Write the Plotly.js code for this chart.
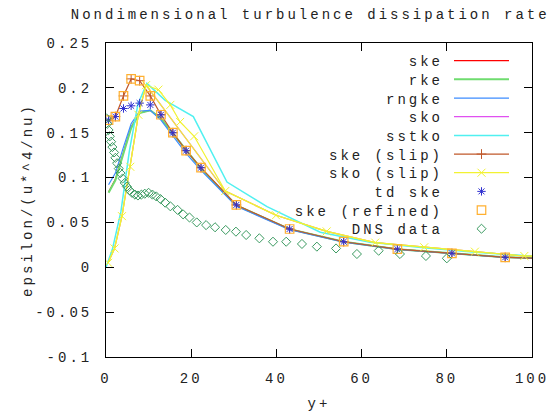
<!DOCTYPE html>
<html><head><meta charset="utf-8">
<script src="https://cdn.plot.ly/plotly-3.0.1.min.js"></script>
<style>
html,body{margin:0;padding:0;background:#fff;}
#chart text{letter-spacing:3px;}
</style></head>
<body><div id="chart" style="width:559px;height:417px;"></div>
<script>
// ---- data ----
const xGrid = [0.6, 2.2, 4.1, 5.9, 7.9, 10.4, 12.9, 15.7, 18.8, 22.3, 30.6, 43.1, 55.8, 68.4, 81.2, 93.7, 106.2];
const skeY     = [0.084, 0.098, 0.128, 0.156, 0.172, 0.175, 0.166, 0.149, 0.130, 0.110, 0.069, 0.0425, 0.0285, 0.0202, 0.0156, 0.0112, 0.0095];
const rkeY     = [0.083, 0.097, 0.127, 0.155, 0.172, 0.175, 0.166, 0.149, 0.130, 0.110, 0.069, 0.0425, 0.0285, 0.0202, 0.0156, 0.0112, 0.0095];
const rngkeY   = [0.092, 0.105, 0.134, 0.160, 0.174, 0.175, 0.164, 0.146, 0.127, 0.108, 0.068, 0.0420, 0.0280, 0.0198, 0.0153, 0.0110, 0.0093];
const skeSlipY = [0.164, 0.168, 0.191, 0.210, 0.208, 0.191, 0.170, 0.150, 0.130, 0.111, 0.0695, 0.0427, 0.0285, 0.0202, 0.0156, 0.0111, 0.0095];
const tdSkeY   = [0.164, 0.168, 0.177, 0.180, 0.183, 0.181, 0.170, 0.150, 0.130, 0.111, 0.0695, 0.0427, 0.0285, 0.0202, 0.0156, 0.0111, 0.0095];
const refinedY = [0.164, 0.168, 0.191, 0.210, 0.208, 0.191, 0.170, 0.150, 0.130, 0.111, 0.0695, 0.0427, 0.0285, 0.0202, 0.0156, 0.0111, 0.0095];

const sstkoX = [0, 1.5, 3.5, 5.5, 7.5, 9.6, 13.9, 20.5, 28.4, 37.8, 50.3, 62, 74, 86, 98, 110];
const sstkoY = [0.0, 0.020, 0.062, 0.130, 0.182, 0.205, 0.186, 0.168, 0.095, 0.0676, 0.039, 0.028, 0.022, 0.017, 0.013, 0.011];

const skoX = [0.5, 2.0, 3.75, 5.7, 7.6, 9.4, 28.0, 39.9, 51.8, 63.2, 74.7, 86.6, 98.2, 110];
const skoY = [0.005, 0.021, 0.057, 0.112, 0.170, 0.203, 0.085, 0.058, 0.040, 0.0275, 0.0223, 0.0174, 0.0126, 0.011];

const skoSlipX = [0.5, 2.0, 3.75, 5.7, 7.6, 9.4, 12.3, 15.1, 17.4, 20.7, 28.0, 39.9, 51.8, 63.2, 74.7, 86.6, 98.2, 110];
const skoSlipY = [0.005, 0.021, 0.057, 0.112, 0.170, 0.203, 0.198, 0.181, 0.162, 0.146, 0.085, 0.058, 0.040, 0.0275, 0.0223, 0.0174, 0.0126, 0.011];

const dnsX = [0.1, 0.3, 0.6, 0.9, 1.2, 1.5, 1.9, 2.2, 2.6, 3.0, 3.4, 3.9, 4.4, 4.9, 5.5, 6.1, 6.8, 7.5, 8.3, 9.1, 10.0, 10.9, 11.8, 12.8, 13.9, 15.1, 16.8, 18.1, 19.6, 21.3, 23.5, 25.6, 28.1, 30.5, 32.9, 36.0, 39.2, 42.3, 46.0, 49.5, 54.0, 58.9, 64.0, 69.0, 75.1, 80.0];
const dnsY = [0.166, 0.160, 0.153, 0.146, 0.140, 0.134, 0.128, 0.122, 0.116, 0.110, 0.105, 0.099, 0.094, 0.090, 0.086, 0.083, 0.081, 0.080, 0.081, 0.082, 0.083, 0.081, 0.079, 0.076, 0.072, 0.068, 0.064, 0.059, 0.0555, 0.050, 0.047, 0.0446, 0.0416, 0.0397, 0.036, 0.0323, 0.0285, 0.0285, 0.026, 0.023, 0.021, 0.0148, 0.0185, 0.0148, 0.0126, 0.010];

const xTickVals = [0, 20, 40, 60, 80, 100];
const xTickText = ['0', '20', '40', '60', '80', '100'];
const yTickVals = [-0.1, -0.05, 0, 0.05, 0.1, 0.15, 0.2, 0.25];
const yTickText = ['-0.1', '-0.05', '0', '0.05', '0.1', '0.15', '0.2', '0.25'];

// ---- styles ----
const FONT = 'Liberation Mono, DejaVu Sans Mono, monospace';
const TXT = '#222';
const C = {ske:'#ff0000', rke:'#6fdc6f', rngke:'#3c8cff', sko:'#e050f0', sstko:'#50f0f0',
           skeSlip:'#c0582a', skoSlip:'#f2f232', td:'#3030d0', refined:'#ffb030', dns:'#3a9a60'};

const traces = [
  {name:'ske', x:xGrid, y:skeY, mode:'lines', line:{color:C.ske, width:1.2}},
  {name:'rke', x:xGrid, y:rkeY, mode:'lines', line:{color:C.rke, width:2}},
  {name:'rngke', x:xGrid, y:rngkeY, mode:'lines', line:{color:C.rngke, width:1.2}},
  {name:'sko', x:skoX, y:skoY, mode:'lines', line:{color:C.sko, width:1.2}},
  {name:'sstko', x:sstkoX, y:sstkoY, mode:'lines', line:{color:C.sstko, width:1.5}},
  {name:'ske (slip)', x:xGrid, y:skeSlipY, mode:'lines+markers', line:{color:C.skeSlip, width:1.2},
   marker:{symbol:'cross-thin-open', size:7, color:C.skeSlip, line:{color:C.skeSlip, width:1}}},
  {name:'sko (slip)', x:skoSlipX, y:skoSlipY, mode:'lines+markers', line:{color:C.skoSlip, width:1.2},
   marker:{symbol:'x-thin-open', size:8, color:C.skoSlip, line:{color:C.skoSlip, width:1}}},
  {name:'sko (slip)', x:skoX, y:skoY, mode:'lines', showlegend:false, line:{color:C.skoSlip, width:1.2}},
  {name:'td ske', x:xGrid, y:tdSkeY, mode:'markers',
   marker:{symbol:'asterisk-open', size:7, color:C.td, line:{color:C.td, width:1}}},
  {name:'ske (refined)', x:xGrid, y:refinedY, mode:'markers',
   marker:{symbol:'square-open', size:8.5, color:C.refined, line:{color:C.refined, width:1.2}}},
  {name:'DNS data', x:dnsX, y:dnsY, mode:'markers',
   marker:{symbol:'diamond-open', size:7, color:C.dns, line:{color:C.dns, width:1}}}
];

const axisCommon = {
  showgrid:false, zeroline:false, showline:true, linecolor:'#000', linewidth:1,
  mirror:'ticks', ticks:'inside', ticklen:8, tickcolor:'#000', tickwidth:1,
  tickfont:{family:FONT, size:14, color:TXT}, tickmode:'array'
};

const layout = {
  width:559, height:417, paper_bgcolor:'#fff', plot_bgcolor:'#fff',
  margin:{l:106, r:27, t:43, b:60},
  showlegend:true,
  title:{text:'Nondimensional turbulence dissipation rate', font:{family:FONT, size:14, color:TXT},
         x:0.555, xanchor:'center', xref:'container', y:0.967, yanchor:'middle', yref:'container'},
  xaxis:Object.assign({}, axisCommon, {range:[0,100], tickvals:xTickVals, ticktext:xTickText,
         ticklabelstandoff:8, title:{text:'y+', font:{family:FONT, size:14, color:TXT}, standoff:12}}),
  yaxis:Object.assign({}, axisCommon, {range:[-0.1,0.25], tickvals:yTickVals, ticktext:yTickText,
         ticklabelstandoff:10, title:{text:'epsilon/(u*^4/nu)', font:{family:FONT, size:14, color:TXT}, standoff:14}}),
  legend:{x:0.5, y:1, xanchor:'left', yanchor:'top', bgcolor:'rgba(0,0,0,0)', borderwidth:0,
          font:{family:FONT, size:14, color:TXT}, tracegroupgap:0}
};

// legend layout constants (gnuplot-style: text right-aligned, sample on the right)
const LEG_TOP = 60.7, LEG_STEP = 18.67, LEG_TEXT_RIGHT = 443, LEG_LINE_LEFT = 454, LEG_LINE_LEN = 55;

const gd = document.getElementById('chart');
Plotly.newPlot(gd, traces, layout, {staticPlot:true, displayModeBar:false}).then(function(){
  gd.querySelectorAll('.legend, .legend *').forEach(function(el){
    if (el.hasAttribute && el.hasAttribute('clip-path')) el.removeAttribute('clip-path');
  });
  const items = gd.querySelectorAll('.legend .traces');
  items.forEach(function(g, i){
    const pm = g.parentNode.getScreenCTM();
    g.setAttribute('transform', 'translate(0,' + (LEG_TOP + i*LEG_STEP - pm.f) + ')');
    const t = g.querySelector('.legendtext');
    if (t) { t.setAttribute('text-anchor','end'); t.style.textAnchor = 'end'; t.setAttribute('x', LEG_TEXT_RIGHT - pm.e); }
    const layers = g.querySelector('g.layers');
    if (layers) layers.setAttribute('transform', 'translate(' + (LEG_LINE_LEFT - 5 - pm.e) + ',0)');
    g.querySelectorAll('.legendlines path').forEach(function(p){ p.setAttribute('d', 'M5,0h' + LEG_LINE_LEN); });
    g.querySelectorAll('path.scatterpts').forEach(function(p){ p.setAttribute('transform', 'translate(' + (5 + LEG_LINE_LEN/2) + ',0)'); });
  });
});
</script>
</body></html>
